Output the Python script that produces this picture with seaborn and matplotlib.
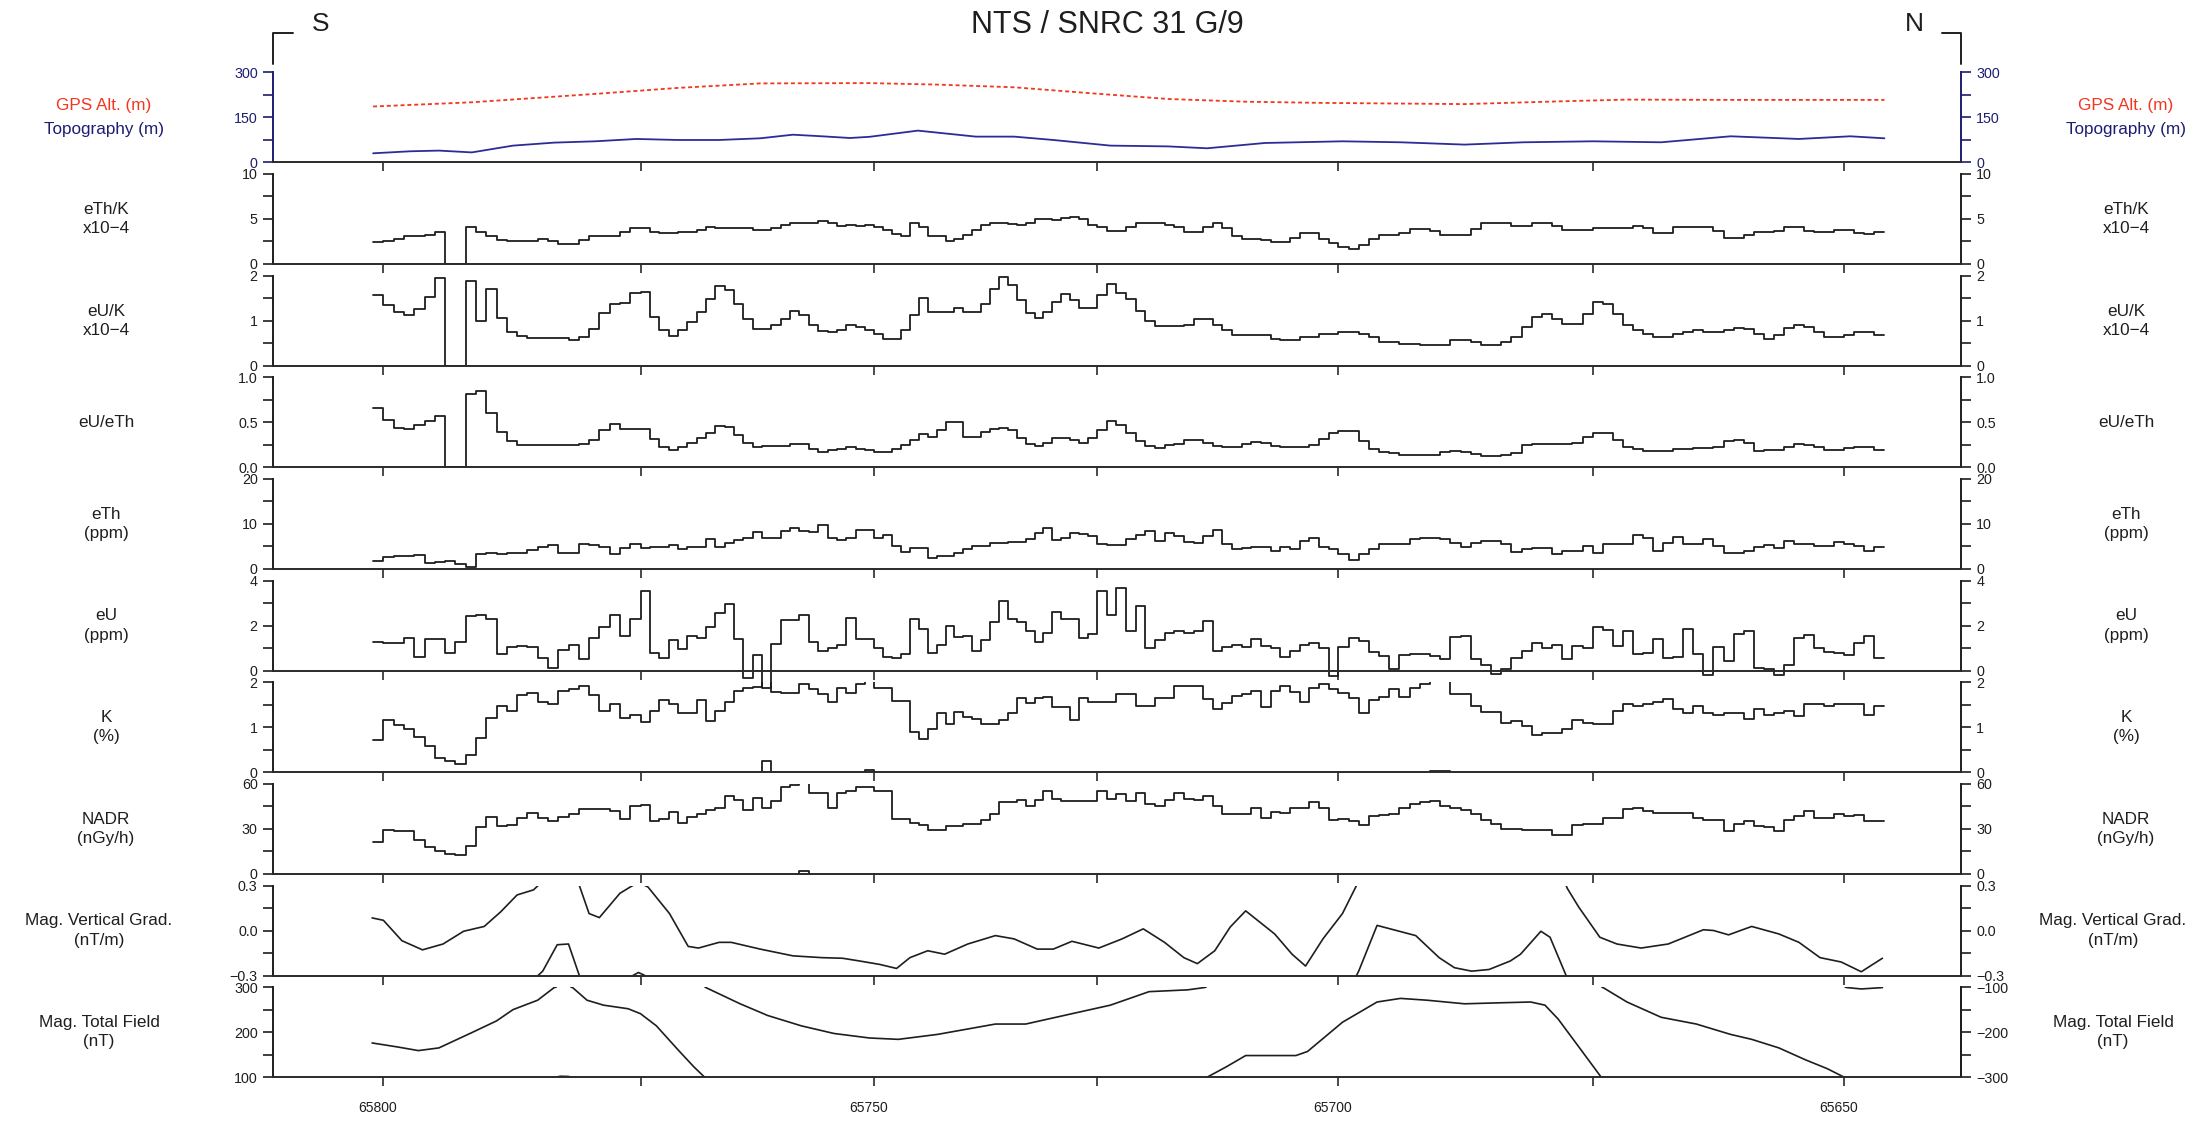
import math
import numpy as np
import pandas as pd
import matplotlib
matplotlib.use("Agg")
import matplotlib.pyplot as plt
from matplotlib.lines import Line2D
from matplotlib.transforms import ScaledTranslation
import seaborn as sns

# ------------------------------------------------------------------ data
# fiducials along the flight line and their distance along the line (km)
fid_ticks = [65800, 65775, 65750, 65725, 65700, 65675, 65650]
fid_tick_km = [0.0, 2.571, 4.909, 7.135, 9.550, 12.094, 14.608]
fid_labels = ["65800", "", "65750", "", "65700", "", "65650"]
first_fid = 65801          # upper edge of the first one-fiducial sample

gps_fid = [65801.0, 65791.4, 65779.4, 65771.0, 65762.2, 65750.5, 65742.9, 65734.3, 65725.6,
           65717.6, 65709.6, 65701.6, 65687.6, 65678.4, 65671.6, 65661.3, 65646.0]
gps_alt = [186, 200, 228, 248, 263, 264, 259, 250, 230, 211, 202, 198, 194, 203, 209, 208, 208]

topo_fid = [65801.0, 65797.4, 65794.6, 65791.4, 65787.4, 65783.4, 65779.4, 65775.4, 65771.0,
            65766.6, 65762.2, 65758.7, 65755.6, 65752.6, 65750.5, 65745.1, 65738.6, 65734.3,
            65729.9, 65723.6, 65717.6, 65713.6, 65707.6, 65699.6, 65693.9, 65687.6, 65681.8,
            65675.0, 65668.2, 65661.3, 65654.5, 65649.4, 65646.0]
topo_m = [30, 36.7, 39, 33, 55.6, 65.6, 70, 77.8, 74.4, 74.4, 80, 92, 86.7, 81, 85, 105.6, 85.6,
          85.6, 74.4, 55.6, 53, 46.7, 64.4, 70, 66.7, 59, 66.7, 70, 66.7, 86.7, 77.8, 86.7, 80]

eth_k = [2.44, 2.6, 2.8, 3.05, 3.1, 3.2, 3.6, 0, 0, 4.05, 3.6,
         3.05, 2.65, 2.5, 2.5, 2.5, 2.8, 2.6, 2.25, 2.25, 2.7,
         3.05, 3.05, 3.05, 3.5, 3.95, 3.95, 3.5, 3.4, 3.4, 3.5,
         3.5, 3.8, 4.15, 4.0, 4.0, 4.0, 4.0, 3.8, 3.75, 3.95,
         4.35, 4.5, 4.55, 4.6, 4.8, 4.6, 4.2, 4.3, 4.25, 4.36,
         4.06, 3.8, 3.3, 3.1, 4.5, 4.06, 3.1, 3.05, 2.55, 2.75,
         3.2, 3.8, 4.36, 4.6, 4.6, 4.4, 4.36, 4.5, 5.0, 5.0,
         4.9, 5.07, 5.2, 5.0, 4.36, 4.06, 3.7, 3.7, 4.06, 4.55,
         4.6, 4.6, 4.36, 4.06, 3.5, 3.5, 4.06, 4.5, 3.95, 3.1,
         2.78, 2.78, 2.7, 2.48, 2.48, 2.9, 3.4, 3.4, 2.75, 2.3,
         1.9, 1.7, 2.07, 2.75, 3.2, 3.2, 3.4, 3.83, 3.83, 3.7,
         3.2, 3.2, 3.2, 3.9, 4.55, 4.55, 4.6, 4.2, 4.2, 4.6,
         4.6, 4.2, 3.8, 3.8, 3.8, 4.0, 4.0, 4.0, 4.0, 4.2,
         4.0, 3.4, 3.4, 4.06, 4.06, 4.06, 4.06, 3.7, 2.9, 2.9,
         3.2, 3.5, 3.5, 3.7, 4.06, 4.06, 3.7, 3.5, 3.5, 3.76,
         3.76, 3.4, 3.3, 3.6]

eu_k = [1.56, 1.34, 1.19, 1.13, 1.26, 1.52, 1.94, 0, 0, 1.89, 0.99,
        1.7, 1.06, 0.75, 0.66, 0.62, 0.62, 0.62, 0.62, 0.57, 0.64,
        0.82, 1.17, 1.37, 1.4, 1.61, 1.63, 1.08, 0.79, 0.65, 0.79,
        0.96, 1.19, 1.49, 1.76, 1.67, 1.37, 1.04, 0.82, 0.81, 0.9,
        1.04, 1.21, 1.12, 0.9, 0.76, 0.74, 0.79, 0.9, 0.86, 0.8,
        0.71, 0.6, 0.6, 0.79, 1.12, 1.5, 1.19, 1.19, 1.19, 1.28,
        1.19, 1.19, 1.37, 1.7, 1.97, 1.79, 1.45, 1.18, 1.06, 1.19,
        1.41, 1.6, 1.45, 1.28, 1.28, 1.56, 1.82, 1.62, 1.47, 1.21,
        0.99, 0.88, 0.88, 0.88, 0.91, 1.03, 1.03, 0.91, 0.79, 0.68,
        0.68, 0.68, 0.68, 0.6, 0.57, 0.57, 0.64, 0.64, 0.7, 0.7,
        0.75, 0.75, 0.71, 0.64, 0.53, 0.53, 0.49, 0.49, 0.46, 0.46,
        0.46, 0.57, 0.57, 0.53, 0.46, 0.46, 0.53, 0.64, 0.86, 1.08,
        1.15, 1.03, 0.92, 0.92, 1.15, 1.41, 1.37, 1.15, 0.91, 0.79,
        0.7, 0.63, 0.63, 0.71, 0.74, 0.79, 0.74, 0.74, 0.79, 0.84,
        0.81, 0.7, 0.6, 0.68, 0.84, 0.91, 0.86, 0.74, 0.63, 0.63,
        0.68, 0.75, 0.75, 0.68]

eu_eth = [0.66, 0.53, 0.44, 0.42, 0.47, 0.51, 0.57, 0, 0, 0.81, 0.85,
          0.6, 0.39, 0.29, 0.25, 0.25, 0.25, 0.25, 0.25, 0.25, 0.26,
          0.3, 0.41, 0.48, 0.42, 0.42, 0.43, 0.31, 0.22, 0.19, 0.23,
          0.27, 0.32, 0.38, 0.46, 0.45, 0.36, 0.27, 0.22, 0.24, 0.24,
          0.24, 0.26, 0.26, 0.2, 0.17, 0.19, 0.2, 0.22, 0.2, 0.19,
          0.17, 0.17, 0.2, 0.25, 0.3, 0.37, 0.34, 0.41, 0.5, 0.5,
          0.34, 0.34, 0.39, 0.43, 0.44, 0.41, 0.33, 0.26, 0.24, 0.27,
          0.32, 0.33, 0.3, 0.27, 0.32, 0.41, 0.51, 0.47, 0.38, 0.29,
          0.24, 0.21, 0.25, 0.26, 0.3, 0.3, 0.27, 0.24, 0.22, 0.23,
          0.26, 0.28, 0.27, 0.24, 0.22, 0.22, 0.22, 0.25, 0.31, 0.38,
          0.4, 0.4, 0.29, 0.2, 0.17, 0.16, 0.14, 0.14, 0.14, 0.14,
          0.17, 0.18, 0.17, 0.15, 0.12, 0.12, 0.14, 0.16, 0.25, 0.26,
          0.26, 0.26, 0.26, 0.27, 0.34, 0.38, 0.38, 0.3, 0.23, 0.2,
          0.18, 0.18, 0.18, 0.2, 0.2, 0.21, 0.21, 0.22, 0.29, 0.3,
          0.27, 0.18, 0.19, 0.19, 0.23, 0.26, 0.25, 0.22, 0.19, 0.19,
          0.21, 0.23, 0.22, 0.19]

eth_ppm = [1.83, 2.56, 2.93, 2.78, 3.08, 1.25, 1.47, 1.83, 1.1, 0.37, 3.3,
           3.44, 3.3, 3.44, 3.5, 4.2, 4.9, 5.35, 3.44, 3.44, 5.64,
           5.27, 4.9, 3.3, 4.54, 5.64, 4.6, 4.76, 4.9, 5.27, 4.4,
           4.76, 4.76, 6.6, 4.9, 5.86, 6.45, 6.96, 8.28, 6.8, 6.96,
           8.4, 9.16, 8.4, 8.28, 9.74, 6.8, 6.37, 6.96, 8.64, 8.64,
           6.8, 7.55, 5.13, 3.66, 4.6, 4.6, 2.42, 2.93, 2.93, 3.44,
           4.4, 5.13, 5.13, 5.71, 5.71, 6.0, 6.0, 6.74, 7.9, 9.0,
           6.37, 6.8, 7.9, 7.7, 7.33, 5.64, 5.35, 5.35, 6.6, 7.55,
           8.4, 6.1, 8.06, 7.33, 6.0, 5.86, 7.33, 8.64, 5.64, 4.4,
           4.6, 4.76, 4.76, 4.03, 4.9, 4.4, 6.23, 6.96, 4.76, 4.4,
           3.3, 2.05, 3.3, 4.4, 5.5, 5.5, 5.5, 6.6, 6.96, 6.96,
           6.6, 5.86, 4.76, 5.86, 6.23, 6.23, 5.64, 3.8, 4.4, 4.6,
           4.6, 3.3, 4.03, 4.03, 4.98, 3.44, 5.5, 5.5, 5.5, 7.55,
           6.96, 4.03, 5.86, 7.1, 5.5, 5.5, 6.6, 5.13, 3.44, 3.44,
           4.03, 4.76, 5.27, 4.54, 6.1, 5.5, 5.5, 4.98, 4.98, 6.0,
           5.64, 4.98, 4.03, 4.9]

eu_ppm = [1.28, 1.23, 1.23, 1.43, 0.62, 1.42, 1.38, 0.77, 1.26, 2.42, 2.49,
          2.31, 0.72, 1.05, 1.08, 1.05, 0.58, 0.12, 0.92, 1.12, 0.51,
          1.46, 1.95, 2.49, 1.54, 2.31, 3.54, 0.77, 0.54, 1.34, 0.97,
          1.54, 1.43, 1.95, 2.54, 2.97, 1.42, -0.31, 0.69, -0.77, 1.18,
          2.23, 2.26, 2.49, 1.28, 0.85, 1.0, 1.12, 2.34, 1.38, 1.38,
          1.0, 0.62, 0.54, 0.74, 2.28, 1.85, 0.77, 1.15, 1.97, 1.49,
          1.54, 0.85, 1.34, 2.15, 3.11, 2.28, 2.15, 1.77, 1.28, 1.69,
          2.62, 2.28, 2.31, 1.46, 1.62, 3.54, 2.46, 3.66, 1.74, 2.89,
          1.0, 1.34, 1.69, 1.77, 1.66, 1.77, 2.18, 0.88, 1.05, 1.12,
          1.03, 1.38, 1.11, 1.0, 0.62, 0.85, 1.12, 1.23, 1.0, -0.23,
          1.03, 1.46, 1.31, 0.82, 0.66, 0.08, 0.69, 0.72, 0.72, 0.66,
          0.51, 1.49, 1.54, 0.51, 0.23, -0.15, 0.08, 0.57, 0.85, 1.23,
          1.0, 1.12, 0.51, 1.08, 1.0, 1.92, 1.8, 1.08, 1.74, 0.74,
          0.77, 1.38, 0.54, 0.62, 1.85, 0.72, -0.2, 1.05, 0.42, 1.62,
          1.77, 0.12, 0.08, -0.2, 0.23, 1.46, 1.57, 1.0, 0.82, 0.77,
          0.69, 1.23, 1.54, 0.57]

k_pct = [0.72, 1.15, 1.06, 0.97, 0.78, 0.58, 0.32, 0.26, 0.19, 0.38, 0.75,
         1.21, 1.47, 1.36, 1.72, 1.76, 1.55, 1.52, 1.81, 1.85, 1.92,
         1.71, 1.36, 1.51, 1.21, 1.27, 1.11, 1.36, 1.61, 1.51, 1.31,
         1.32, 1.6, 1.13, 1.36, 1.55, 1.81, 1.87, 1.89, 2.25, 1.79,
         1.76, 1.77, 1.97, 1.86, 1.74, 1.55, 1.87, 1.76, 1.96, 2.06,
         1.87, 1.87, 1.58, 1.58, 0.89, 0.74, 0.96, 1.32, 1.07, 1.34,
         1.22, 1.18, 1.08, 1.08, 1.17, 1.31, 1.65, 1.53, 1.64, 1.68,
         1.46, 1.46, 1.15, 1.66, 1.55, 1.55, 1.55, 1.74, 1.74, 1.47,
         1.47, 1.65, 1.65, 1.92, 1.92, 1.92, 1.62, 1.41, 1.53, 1.7,
         1.74, 1.81, 1.46, 1.81, 1.91, 1.79, 1.56, 1.87, 1.96, 1.86,
         1.75, 1.66, 1.32, 1.6, 1.68, 1.86, 1.68, 1.87, 1.97, 2.03,
         2.02, 1.74, 1.74, 1.47, 1.34, 1.34, 1.09, 1.13, 1.02, 0.83,
         0.87, 0.87, 0.96, 1.17, 1.09, 1.08, 1.08, 1.36, 1.51, 1.47,
         1.51, 1.56, 1.62, 1.4, 1.31, 1.47, 1.32, 1.28, 1.31, 1.31,
         1.18, 1.4, 1.27, 1.31, 1.36, 1.25, 1.51, 1.51, 1.47, 1.51,
         1.51, 1.51, 1.27, 1.47]

nadr = [21.5, 29.4, 28.8, 28.3, 22.6, 18.1, 15.4, 13.1, 12.5, 18.8, 31.0,
        37.8, 31.7, 32.4, 37.4, 40.3, 37.4, 35.1, 38.0, 39.6, 43.0,
        43.0, 43.0, 41.9, 36.9, 45.3, 46.0, 35.1, 36.7, 41.4, 34.0,
        37.8, 40.1, 42.6, 44.1, 52.1, 49.1, 42.3, 50.5, 43.7, 48.7,
        57.7, 59.3, 61.8, 53.7, 53.7, 43.7, 53.7, 55.5, 57.7, 57.7,
        55.0, 55.0, 36.9, 36.9, 34.0, 32.4, 29.4, 29.4, 31.7, 31.7,
        33.3, 33.3, 36.2, 40.1, 48.0, 48.0, 49.1, 45.3, 49.1, 55.0,
        49.8, 48.7, 48.7, 48.7, 48.7, 55.0, 49.8, 53.2, 48.7, 53.9,
        46.9, 45.3, 49.1, 53.7, 49.8, 49.1, 52.1, 45.3, 40.1, 39.6,
        39.6, 43.7, 37.4, 41.4, 40.8, 43.7, 43.7, 48.2, 44.1, 36.2,
        36.9, 35.5, 32.4, 38.5, 39.2, 39.6, 43.7, 46.4, 48.2, 48.7,
        45.3, 43.7, 42.3, 39.6, 36.2, 33.5, 30.1, 30.1, 29.0, 29.4,
        29.4, 26.0, 26.0, 32.4, 33.5, 33.5, 37.4, 37.4, 43.0, 43.7,
        41.9, 40.3, 40.3, 40.8, 40.8, 37.4, 36.2, 36.2, 28.3, 33.5,
        35.1, 31.7, 31.0, 28.8, 36.2, 38.5, 41.9, 37.4, 37.4, 39.6,
        38.5, 39.2, 35.1, 35.1]

vg_fid = [65801.1, 65800.0, 65798.2, 65796.2, 65794.2, 65792.2, 65790.2, 65788.6, 65787.0,
          65785.4, 65784.5, 65783.1, 65782.0, 65781.1, 65780.0, 65779.0, 65777.0, 65776.0,
          65775.2, 65774.2, 65771.9, 65769.9, 65768.8, 65766.6, 65765.3, 65762.2, 65758.7,
          65755.6, 65753.4, 65751.6, 65749.4, 65747.5, 65746.0, 65744.0, 65742.1, 65739.5,
          65736.4, 65734.3, 65731.7, 65729.9, 65727.8, 65724.8, 65722.4, 65720.2, 65718.0,
          65716.0, 65714.6, 65712.8, 65711.2, 65709.6, 65706.6, 65704.8, 65703.4, 65701.6,
          65699.6, 65698.0, 65696.2, 65692.4, 65690.1, 65688.6, 65686.9, 65685.2, 65683.1,
          65682.1, 65680.1, 65679.2, 65677.5, 65676.4, 65674.3, 65672.6, 65670.2, 65667.5,
          65664.0, 65663.0, 65661.5, 65659.2, 65656.5, 65654.5, 65652.4, 65650.3, 65648.3,
          65646.2]
vg_ntm = [0.084, 0.068, -0.068, -0.129, -0.09, -0.005, 0.027, 0.124, 0.237,
          0.271, 0.33, 0.505, 0.51, 0.33, 0.113, 0.086, 0.248, 0.29,
          0.32, 0.29, 0.113, -0.106, -0.117, -0.079, -0.079, -0.124, -0.169,
          -0.181, -0.185, -0.203, -0.226, -0.253, -0.181, -0.135, -0.158, -0.09,
          -0.034, -0.056, -0.124, -0.124, -0.072, -0.117, -0.056, 0.011, -0.079,
          -0.181, -0.221, -0.135, 0.023, 0.131, -0.023, -0.158, -0.237, -0.056,
          0.113, 0.33, 0.634, 0.566, 0.419, 0.352, 0.329, 0.34, 0.397,
          0.442, 0.595, 0.555, 0.28, 0.158, -0.045, -0.09, -0.117, -0.09,
          0.005, 0.0, -0.029, 0.027, -0.023, -0.079, -0.181, -0.21, -0.275,
          -0.185]

tf_fid = [65801.1, 65798.6, 65796.6, 65794.6, 65791.4, 65789.0, 65787.4, 65785.0, 65783.4,
          65782.8, 65782.0, 65781.6, 65780.2, 65778.6, 65776.2, 65775.0, 65773.3, 65771.0,
          65769.3, 65768.2, 65767.8, 65764.4, 65761.4, 65757.8, 65754.3, 65750.5, 65747.3,
          65742.9, 65736.4, 65733.0, 65727.8, 65723.6, 65719.6, 65715.6, 65713.9, 65713.5,
          65711.6, 65709.6, 65704.4, 65703.2, 65699.6, 65696.2, 65693.9, 65691.3, 65687.6,
          65684.5, 65681.1, 65679.7, 65678.4, 65676.4, 65674.2, 65673.9, 65671.6, 65668.2,
          65664.7, 65661.3, 65659.2, 65656.5, 65653.8, 65651.7, 65650.1, 65649.7, 65648.3,
          65646.2]
tf_nt = [176, 167, 159, 165, 199, 225, 250, 271, 299,
         302, 301.5, 299, 271, 260, 252, 241, 214, 161,
         123, 101, 97, 63.5, 37, 14, -3, -13, -16,
         -5, 18, 18, 41, 60, 90, 94, 99, 101,
         123, 148, 148, 157, 222, 267, 275, 271, 263,
         265, 267, 260, 229, 168, 101, 98, 67, 33,
         18, -5, -16, -35, -62, -81, -99, -101, -104,
         -101]

# ------------------------------------------------------------------ helpers
ft_asc = np.array(fid_ticks[::-1], float)
km_asc = np.array(fid_tick_km[::-1], float)


def fid_to_km(f):
    f = np.asarray(f, float)
    d = np.interp(f, ft_asc, km_asc)
    s_lo = (km_asc[1] - km_asc[0]) / (ft_asc[1] - ft_asc[0])
    s_hi = (km_asc[-1] - km_asc[-2]) / (ft_asc[-1] - ft_asc[-2])
    d = np.where(f < ft_asc[0], km_asc[0] + (f - ft_asc[0]) * s_lo, d)
    d = np.where(f > ft_asc[-1], km_asc[-1] + (f - ft_asc[-1]) * s_hi, d)
    return d


def step_path(values):
    edges = first_fid - np.arange(len(values) + 1)
    xs, ys = [], []
    for i, v in enumerate(values):
        xs += [edges[i], edges[i + 1]]
        ys += [v, v]
    return xs, ys


def wrap_segments(x, y, lo, hi):
    span = hi - lo
    lvl = lambda v: math.floor((v - lo) / span)
    segs, cur = [], []
    px, py = x[0], y[0]
    k0 = lvl(py)
    cur.append((px, py - k0 * span))
    for xn, yn in zip(x[1:], y[1:]):
        k1 = lvl(yn)
        while k1 != k0:
            if k1 > k0:
                b = lo + (k0 + 1) * span
                t = (b - py) / (yn - py)
                xc = px + t * (xn - px)
                cur.append((xc, hi)); segs.append(cur); cur = [(xc, lo)]
                k0 += 1
            else:
                b = lo + k0 * span
                t = (b - py) / (yn - py)
                xc = px + t * (xn - px)
                cur.append((xc, lo)); segs.append(cur); cur = [(xc, hi)]
                k0 -= 1
        cur.append((xn, yn - k0 * span))
        px, py = xn, yn
    segs.append(cur)
    return segs


def draw(ax, x, y, color, lw=1.25, wrap=None, **kw):
    segs = wrap_segments(x, y, *wrap) if wrap else [list(zip(x, y))]
    rows = []
    for si, seg in enumerate(segs):
        for xx, yy in seg:
            rows.append((xx, yy, si))
    df = pd.DataFrame(rows, columns=["fid", "val", "seg"])
    df["km"] = fid_to_km(df["fid"].values)
    sns.lineplot(data=df, x="km", y="val", units="seg", estimator=None, sort=False,
                 color=color, lw=lw, ax=ax, legend=False, **kw)


# ------------------------------------------------------------------ figure
sns.set_theme(style="white")
plt.rcParams["font.family"] = ["Liberation Sans", "DejaVu Sans"]
plt.rcParams["axes.unicode_minus"] = True

W, H = 2197, 1121
fig = plt.figure(figsize=(W / 100, H / 100), dpi=100)
fig.patch.set_facecolor("white")

AX_L, AX_W = 273, 1688
TOP0, PITCH, PH = 72.3, 101.65, 90.0
XMIN, XMAX = -1.104, 15.776
NAVY = "#1d1d72"
INK = "#1e1e1e"
RED = "#f2361f"

panels = [
    dict(lim=(0, 300), major=[0, 150, 300], lab=["0", "150", "300"], minor=[75, 225]),
    dict(lim=(0, 10), major=[0, 5, 10], lab=["0", "5", "10"], minor=[2.5, 7.5],
         text="eTh/K\nx10\u22124"),
    dict(lim=(0, 2), major=[0, 1, 2], lab=["0", "1", "2"], minor=[0.5, 1.5],
         text="eU/K\nx10\u22124"),
    dict(lim=(0, 1), major=[0, 0.5, 1], lab=["0.0", "0.5", "1.0"], minor=[0.25, 0.75],
         text="eU/eTh"),
    dict(lim=(0, 20), major=[0, 10, 20], lab=["0", "10", "20"], minor=[5, 15],
         text="eTh\n(ppm)"),
    dict(lim=(0, 4), major=[0, 2, 4], lab=["0", "2", "4"], minor=[1, 3],
         text="eU\n(ppm)"),
    dict(lim=(0, 2), major=[0, 1, 2], lab=["0", "1", "2"], minor=[0.5, 1.5],
         text="K\n(%)"),
    dict(lim=(0, 60), major=[0, 30, 60], lab=["0", "30", "60"], minor=[15, 45],
         text="NADR\n(nGy/h)"),
    dict(lim=(-0.3, 0.3), major=[-0.3, 0, 0.3], lab=["\u22120.3", "0.0", "0.3"],
         minor=[-0.15, 0.15], text="Mag. Vertical Grad.\n(nT/m)", lx=99, rx=2113),
    dict(lim=(100, 300), major=[100, 200, 300], lab=["100", "200", "300"],
         minor=[150, 250], text="Mag. Total Field\n(nT)", lx=99, rx=2113),
]

axes = []
for i, p in enumerate(panels):
    top = TOP0 + i * PITCH
    ax = fig.add_axes([AX_L / W, 1 - (top + PH) / H, AX_W / W, PH / H])
    axes.append(ax)
    p["cy"] = top + PH / 2

# --- data layers
ax = axes[0]
draw(ax, gps_fid, gps_alt, RED, lw=1.3, linestyle=(0, (2.2, 1.6)))
draw(ax, topo_fid, topo_m, "#2c2c98", lw=1.3)

series = [(1, eth_k, None, {}), (2, eu_k, None, {}), (3, eu_eth, None, {}),
          (4, eth_ppm, None, {}), (5, eu_ppm, None, {"clip_on": False}),
          (6, k_pct, (0, 2), {}), (7, nadr, (0, 60), {})]
for idx, vals, wr, kw in series:
    xs, ys = step_path(vals)
    draw(axes[idx], xs, ys, INK, lw=1.3, wrap=wr, **kw)

draw(axes[8], vg_fid, vg_ntm, INK, lw=1.2, wrap=(-0.3, 0.3))
draw(axes[9], tf_fid, tf_nt, INK, lw=1.2, wrap=(100, 300))

# --- axes styling
for i, (ax, p) in enumerate(zip(axes, panels)):
    col = NAVY if i == 0 else INK
    last = i == len(axes) - 1
    ax.set_xlim(XMIN, XMAX)
    ax.set_ylim(*p["lim"])
    ax.set_xlabel("")
    ax.set_ylabel("")
    ax.set_facecolor("none")
    ax.grid(False)
    ax.spines["top"].set_visible(False)
    for s in ("left", "right"):
        ax.spines[s].set_color(col)
        ax.spines[s].set_linewidth(1.4)
    ax.spines["bottom"].set_color("#2a2a2a")
    ax.spines["bottom"].set_linewidth(1.4)

    ax.set_xticks(fid_tick_km)
    ax.set_xticklabels(fid_labels if last else [""] * len(fid_labels))
    ax.tick_params(axis="x", which="major", direction="out", length=6.5, width=1.2,
                   bottom=True, top=False, labelbottom=last, pad=11, labelsize=10,
                   color="#2a2a2a", labelcolor=INK)
    ax.set_yticks(p["major"])
    ax.set_yticklabels(p["lab"])
    ax.set_yticks(p["minor"], minor=True)
    ax.tick_params(axis="y", which="both", direction="out", length=7, width=1.2,
                   left=True, right=not last, labelleft=True, labelright=not last,
                   pad=4, labelsize=10.3, color=col, labelcolor=col)
    if last:
        sec = ax.secondary_yaxis("right", functions=(lambda v: v - 400, lambda v: v + 400))
        sec.set_yticks([-300, -200, -100])
        sec.set_yticklabels(["\u2212300", "\u2212200", "\u2212100"])
        sec.set_yticks([-250, -150], minor=True)
        sec.tick_params(axis="y", which="both", direction="out", length=7, width=1.2,
                        pad=4, labelsize=10.3, color=INK, labelcolor=INK)
        sec.spines["right"].set_linewidth(1.4)
        sec.spines["right"].set_color(INK)
        for lab in ax.get_xticklabels():
            lab.set_transform(lab.get_transform() +
                              ScaledTranslation(-6 / 100, 0, fig.dpi_scale_trans))

# --- side labels
LFS = 12.3
for p in panels[1:]:
    lx = p.get("lx", 106)
    rx = p.get("rx", 2126)
    for xx in (lx, rx):
        fig.text(xx / W, 1 - p["cy"] / H, p["text"], ha="center", va="center",
                 fontsize=LFS, color=INK, linespacing=1.35)
cy0 = panels[0]["cy"]
for xx in (104, 2126):
    fig.text(xx / W, 1 - (cy0 - 12) / H, "GPS Alt. (m)", ha="center", va="center",
             fontsize=LFS, color=RED)
    fig.text(xx / W, 1 - (cy0 + 12) / H, "Topography (m)", ha="center", va="center",
             fontsize=LFS, color=NAVY)

# --- header
fig.text(1107 / W, 1 - 25 / H, "NTS / SNRC 31 G/9", ha="center", va="center",
         fontsize=22, color=INK)
fig.text(321 / W, 1 - 24 / H, "S", ha="center", va="center", fontsize=19, color=INK)
fig.text(1914 / W, 1 - 24 / H, "N", ha="center", va="center", fontsize=19, color=INK)
for xs_, ys_ in (([293, 273, 273], [33, 33, 64]), ([1942, 1961, 1961], [33, 33, 64])):
    fig.add_artist(Line2D([v / W for v in xs_], [1 - v / H for v in ys_],
                          transform=fig.transFigure, color=INK, lw=1.4))

fig.savefig("out.png", dpi=100, facecolor="white")
